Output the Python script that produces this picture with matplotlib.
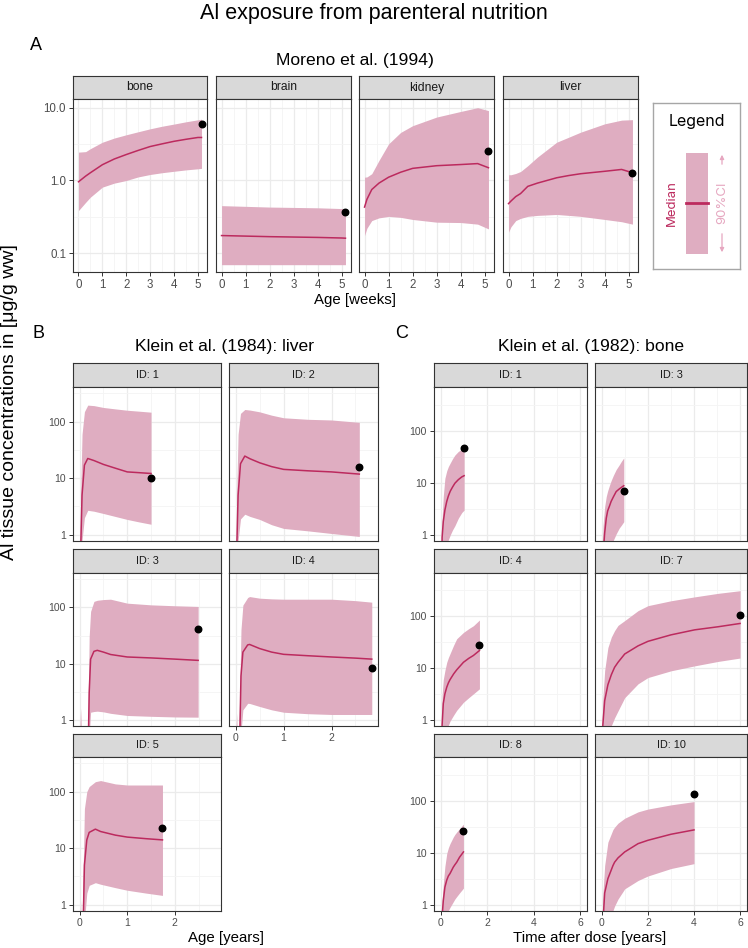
import numpy as np
import matplotlib
matplotlib.use("Agg")
import matplotlib.pyplot as plt
from matplotlib.ticker import FixedLocator, NullFormatter, NullLocator
from matplotlib.patches import Rectangle

# ---- Moreno et al. (1994), age in weeks ----
bone_t = [0, 0.3, 0.5, 1, 1.5, 2, 2.5, 3, 3.5, 4, 4.5, 5, 5.15]
bone_med = [0.96, 1.15, 1.28, 1.65, 1.98, 2.28, 2.6, 2.94, 3.2, 3.47, 3.7, 3.92, 3.92]
bone_hi = [2.46, 2.5, 2.75, 3.37, 3.85, 4.27, 4.7, 5.16, 5.6, 6.0, 6.45, 6.87, 7.0]
bone_lo = [0.385, 0.5, 0.59, 0.81, 0.92, 1.0, 1.12, 1.21, 1.28, 1.34, 1.4, 1.45, 1.47]

brain_t = [0, 1, 2, 3, 4, 5, 5.15]
brain_med = [0.174, 0.171, 0.168, 0.166, 0.164, 0.161, 0.16]
brain_hi = [0.45, 0.44, 0.43, 0.425, 0.42, 0.41, 0.41]
brain_lo = [0.069, 0.069, 0.069, 0.069, 0.069, 0.069, 0.069]

kidney_t = [0, 0.1, 0.3, 0.6, 1, 1.5, 2, 3, 4, 4.7, 5.15]
kidney_med = [0.43, 0.55, 0.75, 0.92, 1.11, 1.3, 1.47, 1.6, 1.66, 1.71, 1.5]
kidney_hi = [1.11, 1.12, 1.24, 1.89, 3.2, 4.6, 5.7, 7.5, 8.96, 10.1, 9.2]
kidney_lo = [0.174, 0.22, 0.28, 0.305, 0.32, 0.31, 0.29, 0.266, 0.263, 0.25, 0.215]

liver_t = [0, 0.1, 0.3, 0.5, 0.8, 1.2, 2, 2.5, 3, 4, 4.7, 5.15]
liver_med = [0.48, 0.52, 0.6, 0.66, 0.83, 0.92, 1.09, 1.17, 1.24, 1.34, 1.42, 1.28]
liver_hi = [1.2, 1.2, 1.25, 1.33, 1.6, 2.1, 3.37, 3.95, 4.64, 6.05, 6.8, 6.9]
liver_lo = [0.194, 0.23, 0.28, 0.3, 0.32, 0.33, 0.34, 0.33, 0.32, 0.29, 0.27, 0.25]

moreno_labels = ["bone", "brain", "kidney", "liver"]
moreno_obs_t = [5.15, 5.15, 5.15, 5.15]
moreno_obs = [6.05, 0.373, 2.54, 1.26]

# ---- Klein et al. (1984): liver, age in years ----
k84_id1_t = [0, 0.02, 0.05, 0.1, 0.17, 0.3, 0.5, 0.75, 1.0, 1.25, 1.5]
k84_id1_med = [0.001, 0.5, 5, 17, 22.3, 20.5, 17.5, 15, 12.9, 12.5, 12.1]
k84_id1_hi = [0.001, 5, 60, 150, 196, 192, 178, 168, 159, 153, 147]
k84_id1_lo = [0.001, 0.1, 0.8, 2.0, 2.7, 2.6, 2.37, 2.1, 1.86, 1.68, 1.53]

k84_id2_t = [0, 0.02, 0.05, 0.1, 0.19, 0.3, 0.5, 0.75, 1.0, 1.5, 2.0, 2.58]
k84_id2_med = [0.001, 0.5, 5, 18, 24.6, 22, 18.7, 16, 14.3, 13.5, 12.9, 11.8]
k84_id2_hi = [0.001, 5, 60, 140, 164, 160, 149, 130, 117, 110, 107, 97]
k84_id2_lo = [0.001, 0.1, 0.8, 1.9, 2.3, 2.1, 1.86, 1.5, 1.29, 1.17, 1.05, 0.93]

k84_id3_t = [0, 0.02, 0.05, 0.15, 0.18, 0.2, 0.23, 0.3, 0.37, 0.5, 0.65, 1.0, 1.5, 2.0, 2.49]
k84_id3_med = [0.001, 0.001, 0.001, 0.001, 0.3, 3, 12, 16.5, 17.2, 16, 14.5, 13.1, 12.6, 12, 11.4]
k84_id3_hi = [0.5, 1.6, 0.3, 0.05, 2, 30, 85, 128, 134, 138, 140, 119, 111, 107, 104]
k84_id3_lo = [0.001, 0.001, 0.001, 0.001, 0.05, 0.5, 1.36, 1.4, 1.42, 1.38, 1.3, 1.19, 1.15, 1.12, 1.11]

k84_id4_t = [0, 0.02, 0.05, 0.08, 0.11, 0.15, 0.25, 0.29, 0.5, 0.75, 1.0, 1.5, 2.0, 2.5, 2.84]
k84_id4_med = [0.001, 0.001, 0.001, 0.3, 6, 16, 21.5, 21.9, 18.5, 16, 14.6, 13.8, 13.1, 12.5, 12.0]
k84_id4_hi = [0.5, 1.3, 0.2, 2, 40, 110, 150, 156, 146, 142, 140, 140, 140, 132, 124]
k84_id4_lo = [0.001, 0.001, 0.001, 0.05, 0.6, 1.5, 1.96, 1.95, 1.72, 1.5, 1.36, 1.28, 1.24, 1.24, 1.24]

k84_id5_t = [0, 0.02, 0.04, 0.07, 0.1, 0.15, 0.2, 0.33, 0.44, 0.75, 1.0, 1.4, 1.74]
k84_id5_med = [0.001, 0.001, 0.001, 0.3, 5, 14, 19, 21.7, 19.7, 17, 15.7, 14.7, 14.0]
k84_id5_hi = [0.3, 1.2, 0.2, 3, 50, 100, 123, 150, 157, 137, 131, 131, 131]
k84_id5_lo = [0.001, 0.001, 0.001, 0.05, 0.5, 1.6, 2.2, 2.45, 2.3, 2.0, 1.8, 1.6, 1.46]

k84_labels = ["ID: 1", "ID: 2", "ID: 3", "ID: 4", "ID: 5"]
k84_obs_t = [1.5, 2.58, 2.49, 2.84, 1.74]
k84_obs = [10, 15.7, 40.5, 8.2, 22.6]

# ---- Klein et al. (1982): bone, time after dose in years ----
k82_id1_t = [0, 0.05, 0.1, 0.17, 0.25, 0.32, 0.4, 0.5, 0.6, 0.75, 0.9, 1.0]
k82_id1_med = [0.01, 0.9, 1.8, 3.0, 4.4, 5.6, 6.9, 8.3, 9.8, 11.5, 13, 13.7]
k82_id1_hi = [0.3, 2, 5.5, 12.2, 17, 20.5, 24, 29, 34, 40, 44, 45]
k82_id1_lo = [0.01, 0.05, 0.2, 0.4, 0.6, 0.81, 1.0, 1.25, 1.5, 2.1, 2.7, 3.0]

k82_id3_t = [0, 0.05, 0.12, 0.19, 0.25, 0.33, 0.4, 0.5, 0.62, 0.75, 0.85, 0.95]
k82_id3_med = [0.01, 0.4, 1.1, 2.1, 2.9, 3.6, 4.4, 5.4, 6.8, 7.6, 8.2, 8.8]
k82_id3_hi = [0.3, 1.5, 3.5, 5.5, 7, 9, 11, 14, 18, 22, 26, 30]
k82_id3_lo = [0.01, 0.03, 0.1, 0.2, 0.3, 0.45, 0.6, 0.8, 1.05, 1.35, 1.55, 1.8]

k82_id4_t = [0, 0.05, 0.1, 0.17, 0.25, 0.32, 0.39, 0.55, 0.68, 0.97, 1.2, 1.4, 1.66]
k82_id4_med = [0.01, 0.8, 2.07, 3.2, 4.3, 5.2, 6.0, 7.8, 9.3, 13, 15.5, 17.6, 21.9]
k82_id4_hi = [0.3, 3, 6, 9, 13, 16, 19, 28, 37, 49, 58, 66, 85]
k82_id4_lo = [0.01, 0.05, 0.15, 0.3, 0.6, 0.79, 0.95, 1.25, 1.54, 2.2, 2.7, 3.2, 4.0]

k82_id7_t = [0, 0.04, 0.12, 0.26, 0.41, 0.55, 0.7, 0.99, 1.57, 2.0, 3.0, 4.03, 5.04, 6.0]
k82_id7_med = [0.01, 0.8, 2.36, 4.8, 7.5, 10.4, 13, 18.8, 27, 33, 44, 55, 63, 73]
k82_id7_hi = [0.5, 2.5, 9, 25, 40, 53, 67, 83, 129, 161, 200, 238, 278, 313]
k82_id7_lo = [0.01, 0.05, 0.15, 0.4, 0.78, 1.1, 1.5, 2.7, 5.0, 6.6, 8.9, 11.1, 13.5, 15.7]

k82_id8_t = [0, 0.05, 0.1, 0.17, 0.25, 0.32, 0.39, 0.53, 0.6, 0.68, 0.8, 0.97]
k82_id8_med = [0.01, 0.6, 1.2, 2.2, 3.0, 3.6, 4.0, 5.3, 5.9, 6.6, 8.2, 10.4]
k82_id8_hi = [0.3, 1.2, 2.5, 5.5, 9.7, 12.5, 15, 20, 22.5, 25, 29, 35.5]
k82_id8_lo = [0.01, 0.05, 0.12, 0.25, 0.5, 0.78, 0.9, 1.15, 1.3, 1.45, 1.7, 2.1]

k82_id10_t = [0, 0.05, 0.12, 0.26, 0.48, 0.55, 0.7, 0.99, 1.57, 2.0, 3.0, 4.0]
k82_id10_med = [0.01, 0.5, 1.7, 3.2, 5.7, 6.6, 8.0, 10.4, 15, 17.4, 22.7, 27.5]
k82_id10_hi = [0.4, 1.8, 5.7, 16, 28, 31, 37, 46, 61, 69, 83, 96]
k82_id10_lo = [0.01, 0.03, 0.1, 0.3, 0.78, 0.95, 1.3, 2.04, 2.95, 3.6, 5.0, 6.2]

k82_labels = ["ID: 1", "ID: 3", "ID: 4", "ID: 7", "ID: 8", "ID: 10"]
k82_obs_t = [1.0, 0.95, 1.66, 6.0, 0.97, 4.0]
k82_obs = [46, 7.0, 28.6, 106, 26.3, 133]

W, H = 748, 948
FILL = "#DFADC1"
LINE = "#BC2A5E"
FONT = "Liberation Sans"
plt.rcParams["font.family"] = [FONT, "DejaVu Sans"]


def px_axes(fig, x0, y0, x1, y1):
    return fig.add_axes([x0 / W, 1 - y1 / H, (x1 - x0) / W, (y1 - y0) / H])


def draw_facet(fig, x0, x1, ys, ye, yb, label, t, lo, med, hi, ot, oy, xlim, ylim,
               xmaj, xmin, ymaj, ytxt, ymin, show_x, show_y, strip_fs, tick_fs):
    # strip
    st = px_axes(fig, x0, ys, x1, ye)
    st.set_facecolor("#D9D9D9")
    st.set_xticks([])
    st.set_yticks([])
    for s in st.spines.values():
        s.set_color("#333333")
        s.set_linewidth(0.8)
    st.text(0.5, 0.5, label, ha="center", va="center", fontsize=strip_fs,
            color="#1A1A1A", transform=st.transAxes)

    ax = px_axes(fig, x0, ye, x1, yb)
    ax.set_yscale("log")
    ax.fill_between(t, lo, hi, color=FILL, lw=0, zorder=2)
    ax.plot(t, med, color=LINE, lw=1.1, zorder=3)
    ax.scatter([ot], [oy], s=22, color="black", zorder=4, clip_on=False)
    ax.set_xlim(*xlim)
    ax.set_ylim(*ylim)

    ax.xaxis.set_major_locator(FixedLocator(xmaj))
    ax.xaxis.set_minor_locator(FixedLocator(xmin))
    ax.yaxis.set_major_locator(FixedLocator(ymaj))
    ax.yaxis.set_minor_locator(FixedLocator(ymin))
    ax.yaxis.set_minor_formatter(NullFormatter())
    ax.grid(True, which="major", color="#EBEBEB", lw=0.9, zorder=0)
    ax.grid(True, which="minor", color="#F4F4F4", lw=0.6, zorder=0)
    ax.set_axisbelow(True)
    ax.tick_params(which="minor", length=0)
    ax.tick_params(which="major", length=3, width=0.7, color="#333333",
                   labelsize=tick_fs, labelcolor="#4D4D4D", pad=2)
    if show_y:
        ax.set_yticklabels(ytxt)
    else:
        ax.tick_params(axis="y", which="major", length=0, labelleft=False)
    if show_x:
        ax.set_xticklabels([str(v) for v in xmaj])
    else:
        ax.tick_params(axis="x", which="major", length=0, labelbottom=False)
    for s in ax.spines.values():
        s.set_color("#333333")
        s.set_linewidth(0.8)
    return ax


fig = plt.figure(figsize=(W / 100, H / 100), dpi=100)

fig.text(374 / W, 1 - 13 / H, "Al exposure from parenteral nutrition",
         ha="center", va="center", fontsize=15.5)
fig.text(10 / W, 1 - 402 / H, "Al tissue concentrations in [\u03bcg/g ww]",
         ha="center", va="center", rotation=90, fontsize=14)

# ---- panel A ----
fig.text(30 / W, 1 - 45 / H, "A", ha="left", va="center", fontsize=13)
fig.text(355 / W, 1 - 61 / H, "Moreno et al. (1994)", ha="center", va="center", fontsize=12.6)
a_x = [(73, 207), (216, 351), (359, 494), (503, 638)]
a_series = [(bone_t, bone_lo, bone_med, bone_hi),
            (brain_t, brain_lo, brain_med, brain_hi),
            (kidney_t, kidney_lo, kidney_med, kidney_hi),
            (liver_t, liver_lo, liver_med, liver_hi)]
for i, (t, lo, med, hi) in enumerate(a_series):
    draw_facet(fig, a_x[i][0], a_x[i][1], 76, 99, 272, moreno_labels[i],
               t, lo, med, hi, moreno_obs_t[i], moreno_obs[i],
               (-0.23, 5.38), (0.0547, 13.3),
               [0, 1, 2, 3, 4, 5], [0.5, 1.5, 2.5, 3.5, 4.5],
               [0.1, 1, 10], ["0.1", "1.0", "10.0"], [0.0316, 0.316, 3.16],
               True, i == 0, 8.7, 8.3)
fig.text(355 / W, 1 - 300 / H, "Age [weeks]", ha="center", va="center", fontsize=10.8)

# legend box
lg = px_axes(fig, 653, 103, 740, 269)
lg.set_xlim(0, 87)
lg.set_ylim(166, 0)
lg.set_xticks([])
lg.set_yticks([])
for s in lg.spines.values():
    s.set_color("#A6A6A6")
    s.set_linewidth(1.0)
lg.text(43.5, 18, "Legend", ha="center", va="center", fontsize=11.5, family="Inter")
lg.add_patch(Rectangle((33, 50), 22, 101, color=FILL, lw=0))
lg.plot([33, 55], [100, 100], color=LINE, lw=2)
lg.text(19, 100, "Median", rotation=90, ha="center", va="center", color=LINE,
        fontsize=9.5, family="Inter")
lg.text(69, 100, "90%CI", rotation=90, ha="center", va="center", color="#E6A7C0",
        fontsize=9.5, family="Inter")
lg.annotate("", xy=(69, 49), xytext=(69, 64),
            arrowprops=dict(arrowstyle="-|>", color="#E6A7C0", lw=0.9, mutation_scale=6))
lg.annotate("", xy=(69, 152), xytext=(69, 128),
            arrowprops=dict(arrowstyle="-|>", color="#E6A7C0", lw=0.9, mutation_scale=6))

# ---- panel B ----
rows = [(363, 387, 541), (549, 573, 726), (734, 757, 911)]
fig.text(32 / W, 1 - 333 / H, "B", ha="left", va="center", fontsize=13)
fig.text(225 / W, 1 - 347 / H, "Klein et al. (1984): liver", ha="center", va="center", fontsize=12.6)
b_x = [(73, 221), (229, 378)]
b_series = [(k84_id1_t, k84_id1_lo, k84_id1_med, k84_id1_hi),
            (k84_id2_t, k84_id2_lo, k84_id2_med, k84_id2_hi),
            (k84_id3_t, k84_id3_lo, k84_id3_med, k84_id3_hi),
            (k84_id4_t, k84_id4_lo, k84_id4_med, k84_id4_hi),
            (k84_id5_t, k84_id5_lo, k84_id5_med, k84_id5_hi)]
for i, (t, lo, med, hi) in enumerate(b_series):
    r, c = divmod(i, 2)
    draw_facet(fig, b_x[c][0], b_x[c][1], *rows[r], k84_labels[i],
               t, lo, med, hi, k84_obs_t[i], k84_obs[i],
               (-0.14, 2.97), (0.773, 410),
               [0, 1, 2], [0.5, 1.5, 2.5],
               [1, 10, 100], ["1", "10", "100"], [3.16, 31.6, 316],
               i >= 3, c == 0, 7.8, 7.5)
fig.text(226 / W, 1 - 938 / H, "Age [years]", ha="center", va="center", fontsize=10.8)

# ---- panel C ----
fig.text(395 / W, 1 - 333 / H, "C", ha="left", va="center", fontsize=13)
fig.text(591 / W, 1 - 347 / H, "Klein et al. (1982): bone", ha="center", va="center", fontsize=12.6)
c_x = [(434, 587), (595, 747)]
c_series = [(k82_id1_t, k82_id1_lo, k82_id1_med, k82_id1_hi),
            (k82_id3_t, k82_id3_lo, k82_id3_med, k82_id3_hi),
            (k82_id4_t, k82_id4_lo, k82_id4_med, k82_id4_hi),
            (k82_id7_t, k82_id7_lo, k82_id7_med, k82_id7_hi),
            (k82_id8_t, k82_id8_lo, k82_id8_med, k82_id8_hi),
            (k82_id10_t, k82_id10_lo, k82_id10_med, k82_id10_hi)]
for i, (t, lo, med, hi) in enumerate(c_series):
    r, c = divmod(i, 2)
    draw_facet(fig, c_x[c][0], c_x[c][1], *rows[r], k82_labels[i],
               t, lo, med, hi, k82_obs_t[i], k82_obs[i],
               (-0.3, 6.3), (0.767, 687),
               [0, 2, 4, 6], [1, 3, 5],
               [1, 10, 100], ["1", "10", "100"], [3.16, 31.6, 316],
               i >= 4, c == 0, 7.8, 7.5)
fig.text(590 / W, 1 - 938 / H, "Time after dose [years]", ha="center", va="center", fontsize=10.8)

fig.savefig("out.png", dpi=100)
